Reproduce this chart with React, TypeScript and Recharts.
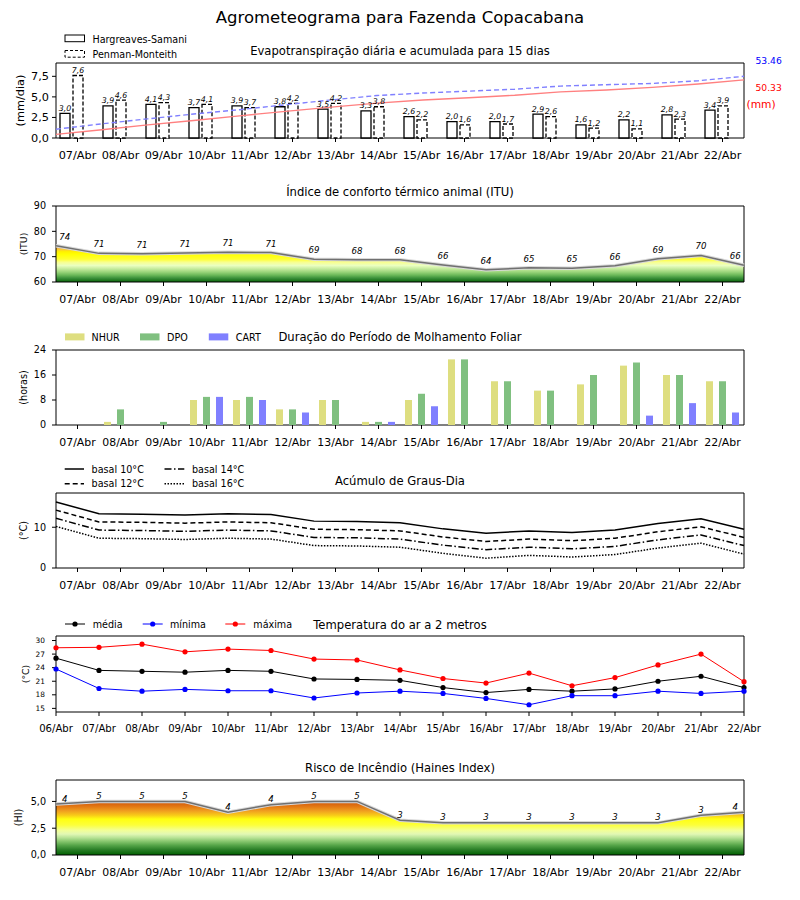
import React from 'react';
import {
  ComposedChart,
  BarChart,
  LineChart,
  Bar,
  Line,
  Area,
  XAxis,
  YAxis,
  ReferenceArea,
  LabelList,
} from 'recharts';

// ---------- data ----------
const days = ['07/Abr', '08/Abr', '09/Abr', '10/Abr', '11/Abr', '12/Abr', '13/Abr', '14/Abr', '15/Abr', '16/Abr', '17/Abr', '18/Abr', '19/Abr', '20/Abr', '21/Abr', '22/Abr'];
const daysTemp = ['06/Abr', '07/Abr', '08/Abr', '09/Abr', '10/Abr', '11/Abr', '12/Abr', '13/Abr', '14/Abr', '15/Abr', '16/Abr', '17/Abr', '18/Abr', '19/Abr', '20/Abr', '21/Abr', '22/Abr'];

const etHS = [3.0, 3.9, 4.1, 3.7, 3.9, 3.8, 3.5, 3.3, 2.6, 2.0, 2.0, 2.9, 1.6, 2.2, 2.8, 3.4];
const etPM = [7.6, 4.6, 4.3, 4.1, 3.7, 4.2, 4.2, 3.8, 2.2, 1.6, 1.7, 2.6, 1.2, 1.1, 2.3, 3.9];
const cumHS = [3.1, 7.1, 11.4, 15.2, 19.2, 23.1, 26.8, 30.2, 32.9, 34.9, 37.0, 40.0, 41.6, 43.9, 46.8, 50.33];
const cumPM = [7.6, 12.3, 16.6, 20.8, 24.5, 28.8, 33.0, 36.8, 39.0, 40.6, 42.3, 45.0, 46.2, 47.3, 49.6, 53.46];

const ituValues = [74.3, 71.3, 71.2, 71.4, 71.7, 71.6, 69.0, 68.8, 68.8, 66.7, 64.8, 65.6, 65.4, 66.4, 69.2, 70.5, 66.6];
const ituLabels = [74, 71, 71, 71, 71, 71, 69, 68, 68, 66, 64, 65, 65, 66, 69, 70, 66];

const nhur = [0, 1, 0, 8, 8, 5, 8, 1, 8, 21, 14, 11, 13, 19, 16, 14];
const dpo = [0, 5, 1, 9, 9, 5, 8, 1, 10, 21, 14, 11, 16, 20, 16, 14];
const cart = [0, 0, 0, 9, 8, 4, 0, 1, 6, 0, 0, 0, 0, 3, 7, 4];

const gd10 = [16.2, 13.3, 13.2, 13.0, 13.3, 13.1, 11.5, 11.4, 11.1, 9.6, 8.5, 9.1, 8.7, 9.3, 10.9, 12.1, 9.5];
const gd12 = [14.2, 11.3, 11.2, 11.0, 11.3, 11.1, 9.5, 9.4, 9.1, 7.6, 6.5, 7.1, 6.7, 7.3, 8.9, 10.1, 7.5];
const gd14 = [12.2, 9.3, 9.2, 9.0, 9.3, 9.1, 7.5, 7.4, 7.1, 5.6, 4.5, 5.1, 4.7, 5.3, 6.9, 8.1, 5.5];
const gd16 = [10.2, 7.3, 7.2, 7.0, 7.3, 7.1, 5.5, 5.4, 5.1, 3.6, 2.4, 3.1, 2.7, 3.3, 4.9, 6.1, 3.4];

const tMax = [28.4, 28.5, 29.2, 27.5, 28.1, 27.8, 25.9, 25.7, 23.5, 21.6, 20.6, 22.8, 20.0, 21.8, 24.6, 27.0, 20.9];
const tMed = [26.1, 23.4, 23.2, 23.0, 23.4, 23.2, 21.5, 21.4, 21.2, 19.6, 18.5, 19.2, 18.8, 19.3, 21.0, 22.1, 19.6];
const tMin = [23.7, 19.4, 18.8, 19.2, 18.9, 18.9, 17.3, 18.4, 18.8, 18.3, 17.2, 15.8, 17.8, 17.8, 18.8, 18.3, 18.8];

const haines = [4.75, 5, 5, 5, 4, 4.7, 5, 5, 3.25, 3, 3, 3, 3, 3, 3, 3.7, 4];
const hainesLabels = [4, 5, 5, 5, 4, 4, 5, 5, 3, 3, 3, 3, 3, 3, 3, 3, 4];

// ---------- tables ----------
const etData = days.map((d, k) => ({ day: d, i: k, hs: etHS[k], pm: etPM[k], cumHs: cumHS[k], cumPm: cumPM[k] }));
const ituData = ituValues.map((v, k) => ({ i: k, v, lbl: ituLabels[k] }));
const wetData = days.map((d, k) => ({ day: d, nhur: nhur[k], dpo: dpo[k], cart: cart[k] }));
const gdData = gd10.map((v, k) => ({ i: k, b10: v, b12: gd12[k], b14: gd14[k], b16: gd16[k] }));
const tData = tMed.map((v, k) => ({ i: k, med: v, min: tMin[k], max: tMax[k] }));
const hData = haines.map((v, k) => ({ i: k, v, lbl: hainesLabels[k] }));

const midTicks = days.map((_, k) => k + 0.5);
const tempTicks = daysTemp.map((_, k) => k);

const FONT = 'DejaVu Sans';
const comma = (v: any) => Number(v).toFixed(1).replace('.', ',');
const tickStyle = (fs: number) => ({ fontSize: fs, fill: '#000', fontFamily: FONT });
const MARGIN = { top: 5, right: 56, bottom: 0, left: 0 };
const XFS = 10.9;
const YFS = 9.6;

const makePointLabel = (off: number, last: number) => (props: any) => {
  const { x, y, value, index } = props;
  const dx = index === 0 ? 8.7 : index === last ? -8.7 : 0;
  return (
    <text x={x + dx} y={y - off} textAnchor="middle" fontSize={8.6} fontStyle="italic" fontFamily={FONT} fill="#000">
      {value}
    </text>
  );
};

const Pos = ({ top, children }: any) => (
  <div style={{ position: 'absolute', left: 0, top }}>{children}</div>
);

const yLbl = (x: number, y: number, text: string, fs: number) => (
  <text x={0} y={0} transform={`translate(${x},${y}) rotate(-90)`} textAnchor="middle" dominantBaseline="central" fontSize={fs} fontFamily={FONT}>
    {text}
  </text>
);

export default function App() {
  return (
    <div style={{ position: 'absolute', left: 0, top: 0, width: 800, height: 900, background: '#fff', fontFamily: FONT }}>
      {/* Panel 1: ET */}
      <Pos top={58}>
        <ComposedChart width={800} height={110} data={etData} margin={MARGIN} barGap={3}>
          <XAxis xAxisId="c" dataKey="day" type="category" interval={0} height={30} tickSize={4} tickMargin={9} tick={tickStyle(11.3)} tickLine={{ stroke: '#000' }} axisLine={false} />
          <XAxis xAxisId="n" dataKey="i" type="number" domain={[0, 15]} hide />
          <YAxis yAxisId="l" domain={[0, 9.12]} ticks={[0, 2.5, 5, 7.5]} interval={0} tickFormatter={comma} width={56} tickSize={4} tickMargin={3} tick={tickStyle(11.3)} tickLine={{ stroke: '#000' }} axisLine={false} />
          <YAxis yAxisId="r" orientation="right" domain={[0, 65]} hide />
          <ReferenceArea xAxisId="c" yAxisId="l" y1={0} y2={9.12} fill="none" stroke="#000" strokeWidth={1} ifOverflow="visible" />
          <Bar xAxisId="c" yAxisId="l" dataKey="hs" barSize={10} fill="#fff" stroke="#000" strokeWidth={1.3} isAnimationActive={false}>
            <LabelList dataKey="hs" position="top" offset={2.5} formatter={comma} fontSize={7.8} fontStyle="italic" fill="#000" fontFamily={FONT} />
          </Bar>
          <Bar xAxisId="c" yAxisId="l" dataKey="pm" barSize={10} fill="#fff" stroke="#000" strokeWidth={1.3} strokeDasharray="4 2" isAnimationActive={false}>
            <LabelList dataKey="pm" position="top" offset={2.5} formatter={comma} fontSize={7.8} fontStyle="italic" fill="#000" fontFamily={FONT} />
          </Bar>
          <Bar xAxisId="c" yAxisId="l" dataKey="spacer" barSize={10} isAnimationActive={false} />
          <Line xAxisId="n" yAxisId="r" dataKey="cumPm" stroke="#8080ff" strokeWidth={1.4} strokeDasharray="5 3" dot={false} activeDot={false} isAnimationActive={false} />
          <Line xAxisId="n" yAxisId="r" dataKey="cumHs" stroke="#ff8080" strokeWidth={1.4} dot={false} activeDot={false} isAnimationActive={false} />
        </ComposedChart>
      </Pos>

      {/* Panel 2: ITU */}
      <Pos top={201}>
        <ComposedChart width={800} height={111} data={ituData} margin={MARGIN}>
          <defs>
            <linearGradient id="ituGrad" gradientUnits="userSpaceOnUse" x1={0} y1={5} x2={0} y2={81}>
              <stop offset="0.4667" stopColor="#e07020" />
              <stop offset="0.5167" stopColor="#f09830" />
              <stop offset="0.5667" stopColor="#f8c040" />
              <stop offset="0.6" stopColor="#fff000" />
              <stop offset="0.6333" stopColor="#ffff00" />
              <stop offset="0.7" stopColor="#ffff30" />
              <stop offset="0.74" stopColor="#f8ff90" />
              <stop offset="0.7833" stopColor="#eaffc0" />
              <stop offset="0.8233" stopColor="#c8eca0" />
              <stop offset="0.8667" stopColor="#9cd67c" />
              <stop offset="0.91" stopColor="#6ab858" />
              <stop offset="0.95" stopColor="#3a903a" />
              <stop offset="1" stopColor="#0a650a" />
            </linearGradient>
          </defs>
          <XAxis dataKey="i" type="number" domain={[0, 16]} ticks={midTicks} tickFormatter={(v: number) => days[Math.floor(v)]} interval={0} height={30} tickSize={4} tickMargin={9} tick={tickStyle(XFS)} tickLine={{ stroke: '#000' }} axisLine={false} />
          <YAxis domain={[60, 90]} ticks={[60, 70, 80, 90]} interval={0} width={56} tickSize={4} tickMargin={6} tick={tickStyle(YFS)} tickLine={{ stroke: '#000' }} axisLine={false} />
          <Area dataKey="v" baseValue={60} fill="url(#ituGrad)" fillOpacity={1} stroke="none" dot={false} activeDot={false} isAnimationActive={false} />
          <Line dataKey="v" stroke="#d8d8d8" strokeWidth={3.5} dot={false} activeDot={false} isAnimationActive={false} />
          <Line dataKey="v" stroke="#707070" strokeWidth={1.5} dot={false} activeDot={false} isAnimationActive={false}>
            <LabelList dataKey="lbl" content={makePointLabel(6, 16)} />
          </Line>
          <ReferenceArea x1={0} x2={16} y1={60} y2={90} fill="none" stroke="#000" strokeWidth={1} ifOverflow="visible" />
        </ComposedChart>
      </Pos>

      {/* Panel 3: wetness */}
      <Pos top={345}>
        <BarChart width={800} height={110} data={wetData} margin={MARGIN} barGap={6}>
          <XAxis dataKey="day" type="category" interval={0} height={30} tickSize={4} tickMargin={9} tick={tickStyle(XFS)} tickLine={{ stroke: '#000' }} axisLine={false} />
          <YAxis domain={[0, 24]} ticks={[0, 8, 16, 24]} interval={0} width={56} tickSize={4} tickMargin={6} tick={tickStyle(YFS)} tickLine={{ stroke: '#000' }} axisLine={false} />
          <Bar dataKey="nhur" barSize={7} fill="#dede80" isAnimationActive={false} />
          <Bar dataKey="dpo" barSize={7} fill="#80c080" isAnimationActive={false} />
          <Bar dataKey="cart" barSize={7} fill="#8080ff" isAnimationActive={false} />
          <ReferenceArea y1={0} y2={24} fill="none" stroke="#000" strokeWidth={1} ifOverflow="visible" />
        </BarChart>
      </Pos>

      {/* Panel 4: graus-dia */}
      <Pos top={488}>
        <LineChart width={800} height={110} data={gdData} margin={MARGIN}>
          <XAxis dataKey="i" type="number" domain={[0, 16]} ticks={midTicks} tickFormatter={(v: number) => days[Math.floor(v)]} interval={0} height={30} tickSize={4} tickMargin={9} tick={tickStyle(XFS)} tickLine={{ stroke: '#000' }} axisLine={false} />
          <YAxis domain={[0, 18.4]} ticks={[0, 10]} interval={0} width={56} tickSize={4} tickMargin={6} tick={tickStyle(YFS)} tickLine={{ stroke: '#000' }} axisLine={false} />
          <Line dataKey="b10" stroke="#000" strokeWidth={1.5} dot={false} activeDot={false} isAnimationActive={false} />
          <Line dataKey="b12" stroke="#000" strokeWidth={1.5} strokeDasharray="5 3" dot={false} activeDot={false} isAnimationActive={false} />
          <Line dataKey="b14" stroke="#000" strokeWidth={1.5} strokeDasharray="7 2.5 1.5 2.5" dot={false} activeDot={false} isAnimationActive={false} />
          <Line dataKey="b16" stroke="#000" strokeWidth={1.5} strokeDasharray="1.5 1.5" dot={false} activeDot={false} isAnimationActive={false} />
          <ReferenceArea x1={0} x2={16} y1={0} y2={18.4} fill="none" stroke="#000" strokeWidth={1} ifOverflow="visible" />
        </LineChart>
      </Pos>

      {/* Panel 5: temperature */}
      <Pos top={631}>
        <LineChart width={800} height={111} data={tData} margin={MARGIN}>
          <XAxis dataKey="i" type="number" domain={[0, 16]} ticks={tempTicks} tickFormatter={(v: number) => daysTemp[v]} interval={0} height={30} tickSize={4} tickMargin={9} tick={tickStyle(10.1)} tickLine={{ stroke: '#000' }} axisLine={false} />
          <YAxis domain={[14.2, 31]} ticks={[15, 18, 21, 24, 27, 30]} interval={0} width={56} tickSize={4} tickMargin={7} tick={tickStyle(7.4)} tickLine={{ stroke: '#000' }} axisLine={false} />
          <Line dataKey="med" stroke="#000" strokeWidth={1} dot={{ r: 2.6, fill: '#000', stroke: '#000', strokeWidth: 0 }} activeDot={false} isAnimationActive={false} />
          <Line dataKey="min" stroke="#0000ff" strokeWidth={1} dot={{ r: 2.6, fill: '#0000ff', stroke: '#0000ff', strokeWidth: 0 }} activeDot={false} isAnimationActive={false} />
          <Line dataKey="max" stroke="#ff0000" strokeWidth={1} dot={{ r: 2.6, fill: '#ff0000', stroke: '#ff0000', strokeWidth: 0 }} activeDot={false} isAnimationActive={false} />
          <ReferenceArea x1={0} x2={16} y1={14.2} y2={31} fill="none" stroke="#000" strokeWidth={1} ifOverflow="visible" />
        </LineChart>
      </Pos>

      {/* Panel 6: Haines */}
      <Pos top={775}>
        <ComposedChart width={800} height={110} data={hData} margin={MARGIN}>
          <defs>
            <linearGradient id="hGrad" gradientUnits="userSpaceOnUse" x1={0} y1={5} x2={0} y2={80}>
              <stop offset="0.243" stopColor="#c04808" />
              <stop offset="0.3" stopColor="#d25c0c" />
              <stop offset="0.357" stopColor="#e47a14" />
              <stop offset="0.414" stopColor="#f0a020" />
              <stop offset="0.471" stopColor="#f8cc18" />
              <stop offset="0.521" stopColor="#ffff10" />
              <stop offset="0.6" stopColor="#fcff3a" />
              <stop offset="0.671" stopColor="#f2ff96" />
              <stop offset="0.721" stopColor="#e2f8b4" />
              <stop offset="0.771" stopColor="#b6e294" />
              <stop offset="0.821" stopColor="#84c46c" />
              <stop offset="0.871" stopColor="#55a448" />
              <stop offset="0.929" stopColor="#2a7e28" />
              <stop offset="1" stopColor="#006000" />
            </linearGradient>
          </defs>
          <XAxis dataKey="i" type="number" domain={[0, 16]} ticks={midTicks} tickFormatter={(v: number) => days[Math.floor(v)]} interval={0} height={30} tickSize={4} tickMargin={9} tick={tickStyle(XFS)} tickLine={{ stroke: '#000' }} axisLine={false} />
          <YAxis domain={[0, 7]} ticks={[0, 2.5, 5]} interval={0} tickFormatter={comma} width={56} tickSize={4} tickMargin={6} tick={tickStyle(YFS)} tickLine={{ stroke: '#000' }} axisLine={false} />
          <Area dataKey="v" baseValue={0} fill="url(#hGrad)" fillOpacity={1} stroke="none" dot={false} activeDot={false} isAnimationActive={false} />
          <Line dataKey="v" stroke="#d8d8d8" strokeWidth={3.5} dot={false} activeDot={false} isAnimationActive={false} />
          <Line dataKey="v" stroke="#707070" strokeWidth={1.5} dot={false} activeDot={false} isAnimationActive={false}>
            <LabelList dataKey="lbl" content={makePointLabel(2.5, 16)} />
          </Line>
          <ReferenceArea x1={0} x2={16} y1={0} y2={7} fill="none" stroke="#000" strokeWidth={1} ifOverflow="visible" />
        </ComposedChart>
      </Pos>

      {/* Overlay: titles, legends, axis labels */}
      <svg width={800} height={900} style={{ position: 'absolute', left: 0, top: 0, pointerEvents: 'none' }} fontFamily={FONT}>
        <text x={400} y={22.5} textAnchor="middle" fontSize={16.5}>Agrometeograma para Fazenda Copacabana</text>

        {/* panel 1 */}
        <rect x={65} y={35} width={19.5} height={6.7} fill="#fff" stroke="#000" strokeWidth={1} />
        <text x={92.5} y={42.6} fontSize={9.6}>Hargreaves-Samani</text>
        <rect x={65} y={50.5} width={19.5} height={6.7} fill="#fff" stroke="#000" strokeWidth={1} strokeDasharray="3 2" />
        <text x={92.5} y={57.5} fontSize={9.6}>Penman-Monteith</text>
        <text x={400} y={55} textAnchor="middle" fontSize={11.6}>Evapotranspiração diária e acumulada para 15 dias</text>
        <text x={755.5} y={64.3} fontSize={9.2} fill="#0000ff">53.46</text>
        <text x={755.5} y={91} fontSize={9.2} fill="#ff0000">50.33</text>
        <text x={746.5} y={108} fontSize={10.7} fill="#ff0000">(mm)</text>
        {yLbl(20, 100.5, '(mm/dia)', 11.3)}

        {/* panel 2 */}
        <text x={400} y={196} textAnchor="middle" fontSize={11.6}>Índice de conforto térmico animal (ITU)</text>
        {yLbl(23.5, 244, '(ITU)', 9.4)}

        {/* panel 3 */}
        <rect x={65} y={333.4} width={19.5} height={7} fill="#dede80" />
        <text x={91.6} y={341} fontSize={9.6}>NHUR</text>
        <rect x={140} y={333.4} width={19.5} height={7} fill="#80c080" />
        <text x={167} y={341} fontSize={9.6}>DPO</text>
        <rect x={208.8} y={333.4} width={19.5} height={7} fill="#8080ff" />
        <text x={235.7} y={341} fontSize={9.6}>CART</text>
        <text x={400} y={341} textAnchor="middle" fontSize={11.6}>Duração do Período de Molhamento Foliar</text>
        {yLbl(23.5, 387.5, '(horas)', 9.6)}

        {/* panel 4 */}
        <line x1={64.7} y1={469} x2={84} y2={469} stroke="#000" strokeWidth={1.5} />
        <text x={91.6} y={472.5} fontSize={9.6}>basal 10°C</text>
        <line x1={164.5} y1={469} x2={184.3} y2={469} stroke="#000" strokeWidth={1.5} strokeDasharray="7 2.5 1.5 2.5" />
        <text x={192} y={472.5} fontSize={9.6}>basal 14°C</text>
        <line x1={64.7} y1={483.7} x2={84} y2={483.7} stroke="#000" strokeWidth={1.5} strokeDasharray="5 3" />
        <text x={91.6} y={487.2} fontSize={9.6}>basal 12°C</text>
        <line x1={164.5} y1={483.7} x2={184.3} y2={483.7} stroke="#000" strokeWidth={1.5} strokeDasharray="1.5 1.5" />
        <text x={192} y={487.2} fontSize={9.6}>basal 16°C</text>
        <text x={400} y={484.7} textAnchor="middle" fontSize={11.6}>Acúmulo de Graus-Dia</text>
        {yLbl(23.5, 530.5, '(°C)', 9.6)}

        {/* panel 5 */}
        <line x1={65} y1={624} x2={85} y2={624} stroke="#000" strokeWidth={1} />
        <circle cx={75} cy={624} r={2.6} fill="#000" />
        <text x={92.7} y={627.5} fontSize={9.6}>média</text>
        <line x1={142.7} y1={624} x2={162.7} y2={624} stroke="#0000ff" strokeWidth={1} />
        <circle cx={152.7} cy={624} r={2.6} fill="#0000ff" />
        <text x={170} y={627.5} fontSize={9.6}>mínima</text>
        <line x1={225.3} y1={624} x2={245.3} y2={624} stroke="#ff0000" strokeWidth={1} />
        <circle cx={235.3} cy={624} r={2.6} fill="#ff0000" />
        <text x={253.3} y={627.5} fontSize={9.6}>máxima</text>
        <text x={400} y={628.5} textAnchor="middle" fontSize={11.6}>Temperatura do ar a 2 metros</text>
        {yLbl(25, 674, '(°C)', 9.4)}

        {/* panel 6 */}
        <text x={400} y={772} textAnchor="middle" fontSize={11.6}>Risco de Incêndio (Haines Index)</text>
        {yLbl(18, 817.5, '(HI)', 9.6)}
      </svg>
    </div>
  );
}
